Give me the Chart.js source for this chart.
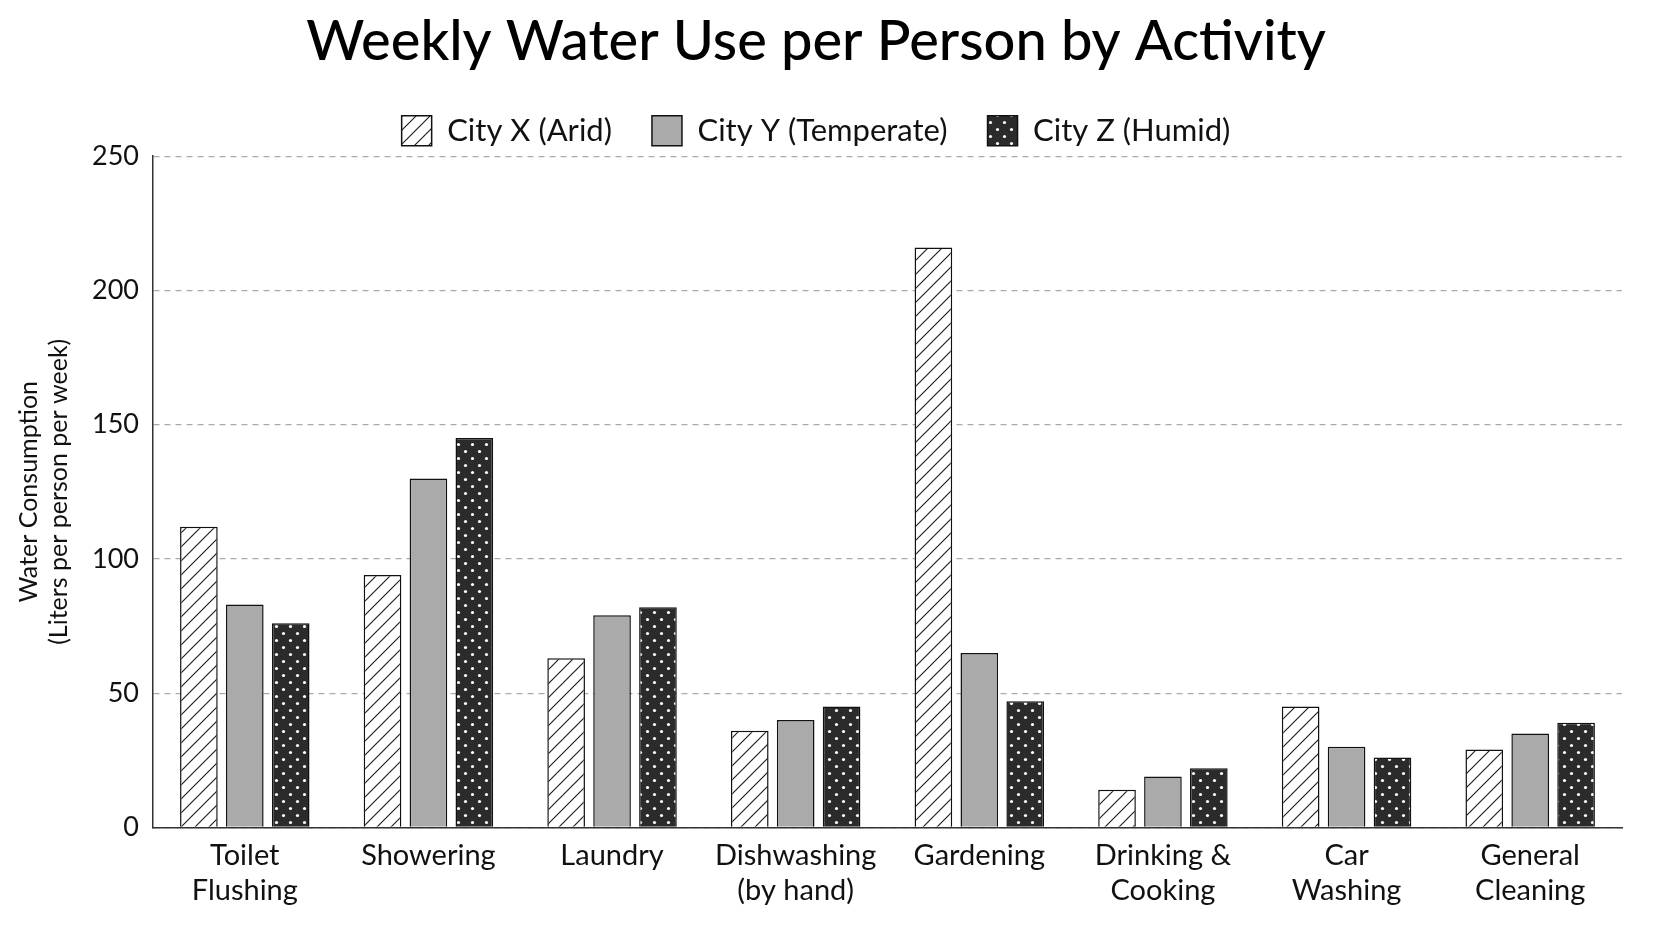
<!DOCTYPE html>
<html>
<head>
<meta charset="utf-8">
<script src="https://cdn.jsdelivr.net/npm/chart.js@4"></script>
<style>
  html, body { margin: 0; background: #fff; }
  #wrap { width: 1672px; height: 941px; }
</style>
</head>
<body>
<div id="wrap"><canvas id="chart"></canvas></div>
<script>
const categories = [['Toilet', 'Flushing'], 'Showering', 'Laundry', ['Dishwashing', '(by hand)'], 'Gardening', ['Drinking &', 'Cooking'], ['Car', 'Washing'], ['General', 'Cleaning']];
const cityX = [112, 94, 63, 36, 216, 14, 45, 29];
const cityY = [83, 130, 79, 40, 65, 19, 30, 35];
const cityZ = [76, 145, 82, 45, 47, 22, 26, 39];
const seriesNames = ['City X (Arid)', 'City Y (Temperate)', 'City Z (Humid)'];
const yTicks = [0, 50, 100, 150, 200, 250];

// fill patterns
function hatch() {
    const c = document.createElement('canvas');
    c.width = 14; c.height = 14;
    const g = c.getContext('2d');
    g.fillStyle = '#fff'; g.fillRect(0, 0, 14, 14);
    g.strokeStyle = '#222'; g.lineWidth = 1.2;
    g.beginPath();
    g.moveTo(0, 14); g.lineTo(14, 0);
    g.moveTo(-7, 7); g.lineTo(7, -7);
    g.moveTo(7, 21); g.lineTo(21, 7);
    g.stroke();
    return g.createPattern(c, 'repeat');
}
function dots() {
    const c = document.createElement('canvas');
    c.width = 14; c.height = 14;
    const g = c.getContext('2d');
    g.fillStyle = '#2b2b2b'; g.fillRect(0, 0, 14, 14);
    g.fillStyle = '#fff';
    [[3.5, 3.5], [10.5, 10.5]].forEach(([x, y]) => {
        g.beginPath(); g.arc(x, y, 1.6, 0, Math.PI * 2); g.fill();
    });
    return g.createPattern(c, 'repeat');
}
const fills = [hatch(), '#aaaaaa', dots()];

Chart.defaults.font.family = 'Lato, "Noto Sans", sans-serif';
Chart.defaults.color = '#111';

new Chart(document.getElementById('chart'), {
    type: 'bar',
    data: {
        labels: categories,
        datasets: [cityX, cityY, cityZ].map((d, i) => ({
            label: seriesNames[i],
            data: d,
            backgroundColor: fills[i],
            borderColor: '#111',
            borderWidth: 1.5,
            barPercentage: 0.82,
            categoryPercentage: 0.75
        }))
    },
    options: {
        responsive: true,
        maintainAspectRatio: false,
        animation: false,
        layout: { padding: { left: 10, right: 50, top: 8, bottom: 30 } },
        plugins: {
            title: {
                display: true,
                text: 'Weekly Water Use per Person by Activity',
                font: { size: 56, weight: '500' },
                color: '#000',
                padding: { top: 0, bottom: 0 }
            },
            legend: {
                labels: {
                    boxWidth: 30, boxHeight: 30,
                    font: { size: 31 },
                    padding: 40,
                    color: '#111'
                }
            },
            tooltip: { enabled: false }
        },
        scales: {
            x: {
                grid: { display: false },
                border: { color: '#333', width: 1.5 },
                ticks: { font: { size: 29 }, color: '#111', maxRotation: 0 }
            },
            y: {
                min: 0, max: 250,
                afterBuildTicks: ax => { ax.ticks = yTicks.map(v => ({ value: v })); },
                grid: { color: '#aaa', lineWidth: 1.2, drawTicks: false },
                border: { display: true, color: '#333', width: 1.5, dash: [6, 5] },
                ticks: { font: { size: 27 }, color: '#111', padding: 14 },
                title: {
                    display: true,
                    text: ['Water Consumption', '(Liters per person per week)'],
                    font: { size: 25 },
                    color: '#111'
                }
            }
        }
    }
});
</script>
</body>
</html>
